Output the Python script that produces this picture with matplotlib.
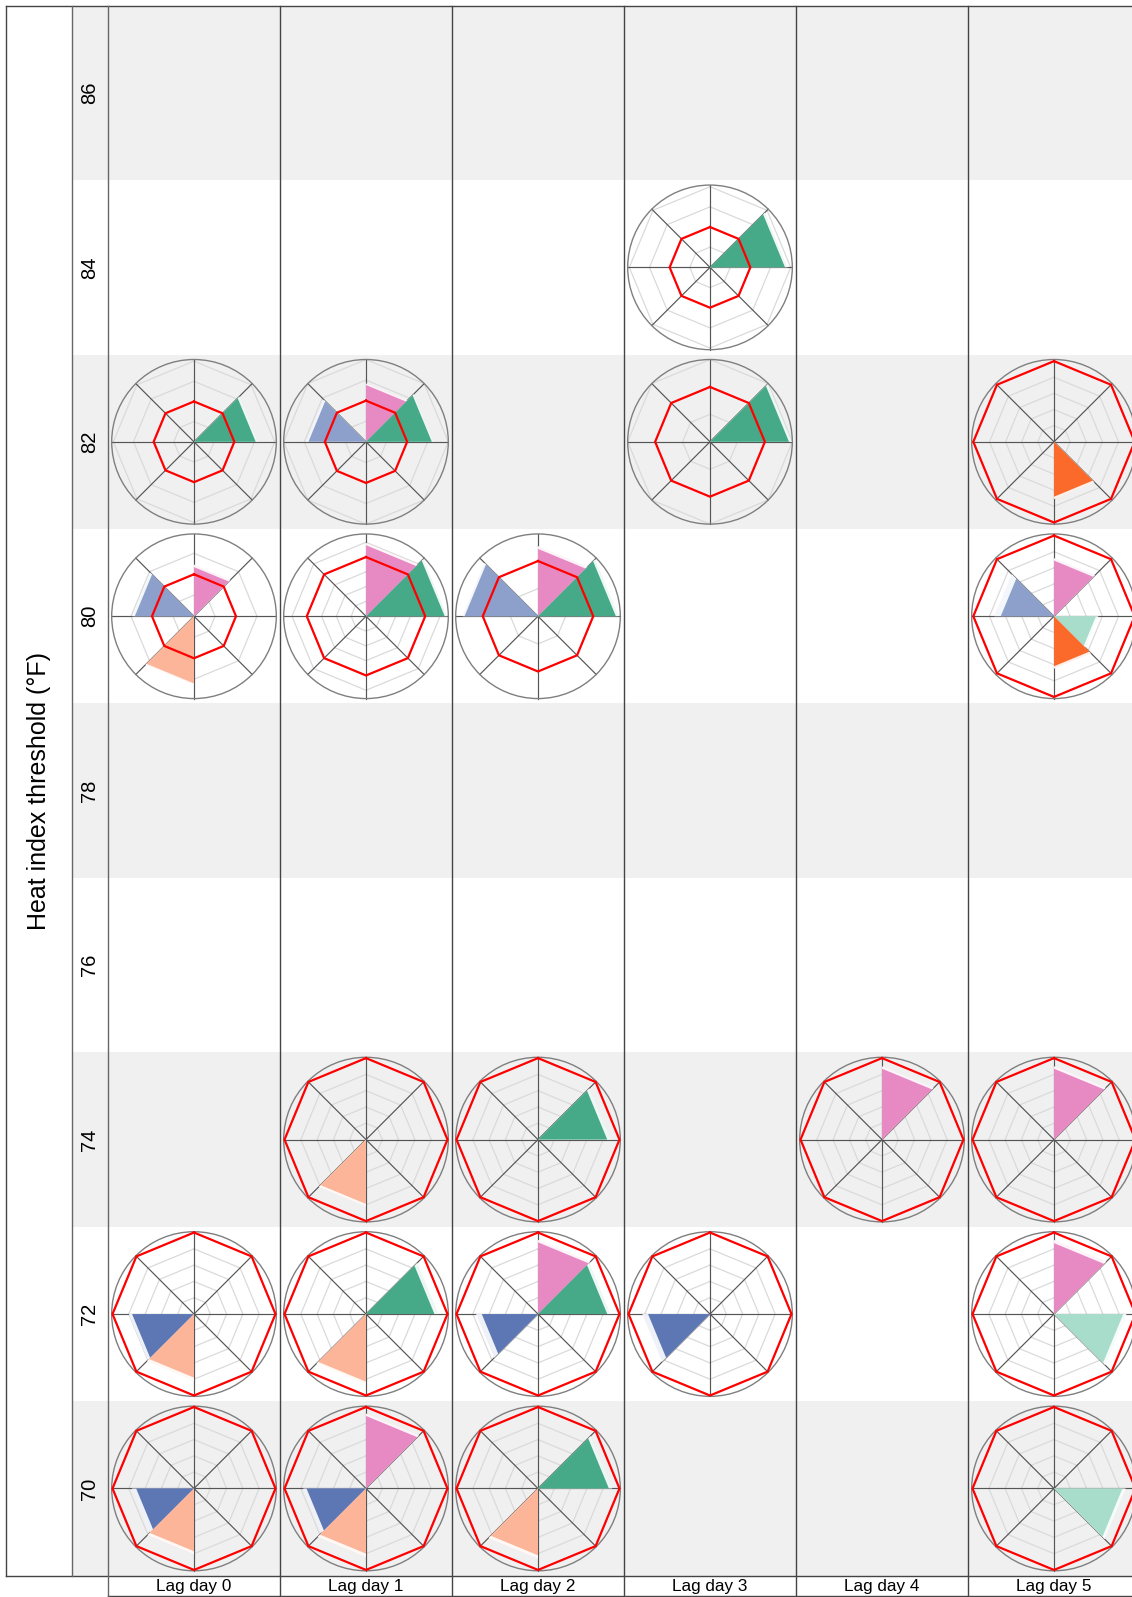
import numpy as np
import matplotlib
matplotlib.use("Agg")
import matplotlib.pyplot as plt
from matplotlib.patches import Rectangle, Circle, Polygon
from matplotlib.colors import to_rgb

plt.rcParams['font.family'] = ['Liberation Sans', 'DejaVu Sans']

# ---------------------------------------------------------------- data
thresholds = [86, 84, 82, 80, 78, 76, 74, 72, 70]
lag_days = [0, 1, 2, 3, 4, 5]
lag_labels = [f"Lag day {d}" for d in lag_days]
y_title = "Heat index threshold (°F)"
reference_value = 1.0
n_spokes = 8
# one colour per sector, clockwise from the top spoke
sector_colors = ["#E78AC3", "#46AA88", "#A8DCCB", "#FC6A2B",
                 "#FCB598", "#5C77B4", "#8CA0CB", "#F3C6E1"]

# populated panels: lag, threshold, radial maximum, grid step
panel_lag = [3, 0, 1, 3, 5, 0, 1, 2, 5, 1, 2, 4, 5, 0, 1, 2, 3, 5, 0, 1, 2, 5]
panel_thr = [84, 82, 82, 82, 82, 80, 80, 80, 80, 74, 74, 74, 74,
             72, 72, 72, 72, 72, 70, 70, 70, 70]
panel_rmax = [2.04, 2.04, 2.0, 1.5, 1.02, 1.96, 1.39, 1.49, 1.02,
              1.01, 1.01, 1.01, 1.01, 1.01, 1.01, 1.01, 1.01, 1.01,
              1.01, 1.01, 1.01, 1.01]
panel_step = [0.5, 0.5, 0.5, 0.5, 0.2, 0.5, 0.25, 0.5, 0.2,
              0.2, 0.2, 0.2, 0.2, 0.2, 0.2, 0.2, 0.2, 0.2,
              0.2, 0.2, 0.2, 0.2]

# sector estimates with their upper bounds
est_lag = [3, 0, 1, 1, 1, 3, 5, 0, 0, 0, 1, 1, 2, 2, 2, 5, 5, 5, 5,
           1, 2, 4, 5, 0, 0, 1, 1, 2, 2, 2, 3, 5, 5, 0, 0, 1, 1, 1, 2, 2, 5]
est_thr = [84, 82, 82, 82, 82, 82, 82, 80, 80, 80, 80, 80, 80, 80, 80,
           80, 80, 80, 80, 74, 74, 74, 74, 72, 72, 72, 72, 72, 72, 72,
           72, 72, 72, 70, 70, 70, 70, 70, 70, 70, 70]
est_sector = [1, 1, 0, 1, 6, 1, 3, 0, 6, 4, 0, 1, 0, 1, 6, 0, 6, 2, 3,
              4, 1, 0, 0, 5, 4, 1, 4, 0, 1, 5, 5, 0, 2, 5, 4, 0, 5, 4, 1, 4, 2]
est_value = [1.86, 1.53, 1.38, 1.60, 1.40, 1.44, 0.68, 1.17, 1.41, 1.60,
             1.20, 1.33, 1.22, 1.41, 1.33, 0.69, 0.66, 0.52, 0.62,
             0.79, 0.85, 0.87, 0.87, 0.76, 0.78, 0.84, 0.83, 0.88, 0.85,
             0.69, 0.76, 0.87, 0.85, 0.71, 0.77, 0.89, 0.73, 0.80, 0.87,
             0.82, 0.84]
est_upper = [1.92, 1.59, 1.42, 1.64, 1.45, 1.49, 0.71, 1.23, 1.47, 1.64,
             1.24, 1.37, 1.27, 1.46, 1.37, 0.72, 0.74, 0.55, 0.65,
             0.82, 0.89, 0.90, 0.90, 0.80, 0.82, 0.89, 0.86, 0.91, 0.89,
             0.76, 0.83, 0.91, 0.89, 0.76, 0.81, 0.92, 0.77, 0.84, 0.91,
             0.86, 0.88]

# ---------------------------------------------------------------- layout (pixels)
W, H = 1132, 1597
DPI = 100
left_x, strip_x, grid_x = 6.0, 72.0, 108.0
top_y, bottom_y, label_bottom = 5.7, 1575.7, 1596.3
col_w = 172.0
row_h = (bottom_y - top_y) / len(thresholds)
circle_px = 82.3
band_color = "#F0F0F0"
line_color = "#444444"

fig = plt.figure(figsize=(W / DPI, H / DPI), dpi=DPI)
bg = fig.add_axes([0, 0, 1, 1])
bg.set_xlim(0, W)
bg.set_ylim(H, 0)
bg.axis("off")

# alternating row bands
for i, thr in enumerate(thresholds):
    y0 = top_y + i * row_h
    bg.add_patch(Rectangle((strip_x, y0), W - strip_x + 20, row_h,
                           facecolor=band_color if i % 2 == 0 else "white",
                           edgecolor="none", zorder=0))
    bg.text((strip_x + grid_x) / 2, y0 + row_h / 2, str(thr), rotation=90,
            ha="center", va="center", fontsize=14.5, color="black")

# frame lines
right = W + 20
bg.plot([left_x, right], [top_y, top_y], color=line_color, lw=1.0, zorder=2)
bg.plot([left_x, right], [bottom_y, bottom_y], color=line_color, lw=1.0, zorder=2)
bg.plot([grid_x, right], [label_bottom, label_bottom], color=line_color, lw=1.0, zorder=2)
bg.plot([left_x, left_x], [top_y, bottom_y], color=line_color, lw=1.0, zorder=2)
bg.plot([strip_x, strip_x], [top_y, bottom_y], color="#666666", lw=1.0, zorder=2)
bg.plot([grid_x, grid_x], [top_y, label_bottom], color="#666666", lw=1.0, zorder=2)
for j in range(1, len(lag_days) + 1):
    x = grid_x + j * col_w
    bg.plot([x, x], [top_y, label_bottom], color=line_color, lw=1.0, zorder=2)
for j, lab in enumerate(lag_labels):
    bg.text(grid_x + (j + 0.5) * col_w, (bottom_y + label_bottom) / 2 + 0.5, lab,
            ha="center", va="center", fontsize=12.3, color="black")

bg.text((left_x + strip_x) / 2, (top_y + bottom_y) / 2, y_title, rotation=90,
        ha="center", va="center", fontsize=18, color="black")

# ---------------------------------------------------------------- radar panels
spoke_angles = np.pi / 2 - np.arange(n_spokes) * 2 * np.pi / n_spokes


def ring(r):
    a = np.append(spoke_angles, spoke_angles[0])
    return r * np.cos(a), r * np.sin(a)


def sector_poly(s, r):
    a0, a1 = spoke_angles[s], spoke_angles[(s + 1) % n_spokes]
    return [(0, 0), (r * np.cos(a0), r * np.sin(a0)), (r * np.cos(a1), r * np.sin(a1))]


def lighten(c, f=0.9):
    rgb = np.array(to_rgb(c))
    return tuple(rgb + (1 - rgb) * f)


for lag, thr, rmax, step in zip(panel_lag, panel_thr, panel_rmax, panel_step):
    i = thresholds.index(thr)
    j = lag_days.index(lag)
    x0 = grid_x + j * col_w
    y0 = top_y + i * row_h
    ax = fig.add_axes([x0 / W, 1 - (y0 + row_h) / H, col_w / W, row_h / H])
    ax.patch.set_visible(False)
    ax.axis("off")
    hx = rmax * (col_w / 2) / circle_px
    hy = rmax * (row_h / 2) / circle_px
    ax.set_xlim(-hx, hx)
    ax.set_ylim(-hy, hy)

    # grid rings
    for level in np.arange(step, rmax + 1e-9, step):
        gx, gy = ring(level)
        ax.plot(gx, gy, color="#DADADA", lw=0.9, zorder=1)

    # spokes
    for a in spoke_angles:
        ax.plot([0, rmax * np.cos(a)], [0, rmax * np.sin(a)],
                color="#555555", lw=0.85, zorder=2)

    # outer circle
    ax.add_patch(Circle((0, 0), rmax, facecolor="none", edgecolor="#7F7F7F",
                        lw=1.0, zorder=2))

    sel = [k for k in range(len(est_lag)) if est_lag[k] == lag and est_thr[k] == thr]
    for k in sel:
        s = est_sector[k]
        ax.add_patch(Polygon(sector_poly(s, est_upper[k]), closed=True,
                             facecolor=lighten(sector_colors[s]), edgecolor="none",
                             zorder=3))
    for k in sel:
        s = est_sector[k]
        ax.add_patch(Polygon(sector_poly(s, est_value[k]), closed=True,
                             facecolor=sector_colors[s], edgecolor="none", zorder=4))

    # reference ring
    rx, ry = ring(reference_value)
    ax.plot(rx, ry, color="#FF0000", lw=1.6, zorder=5, solid_joinstyle="miter")

fig.savefig("out.png", dpi=DPI)
